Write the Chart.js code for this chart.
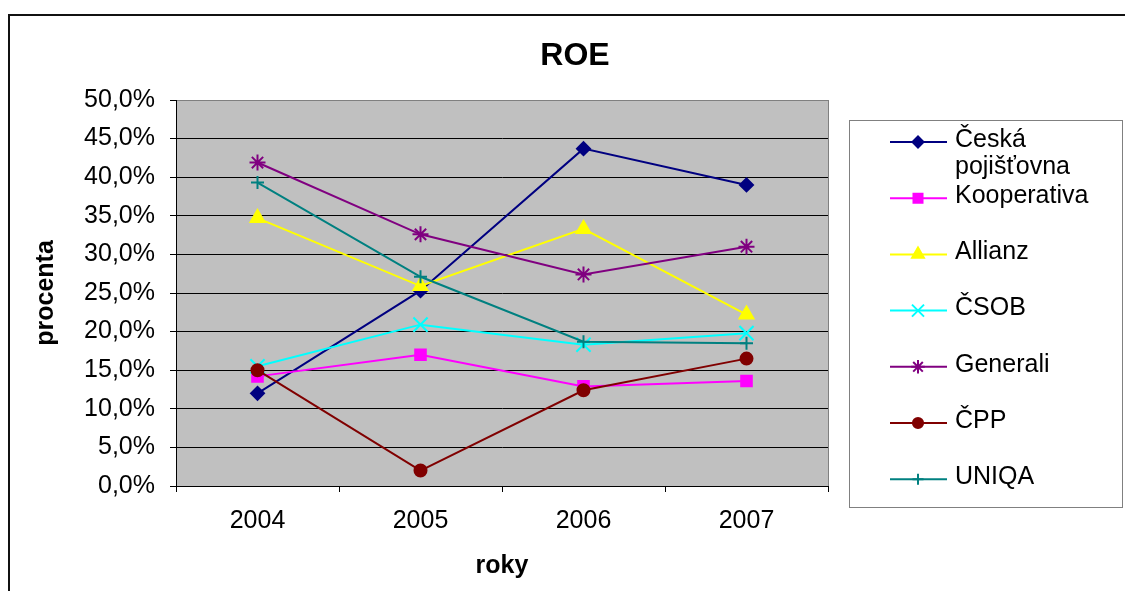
<!DOCTYPE html>
<html>
<head>
<meta charset="utf-8">
<script src="https://cdn.jsdelivr.net/npm/chart.js@4/dist/chart.umd.min.js"></script>
<style>
  html, body { margin: 0; padding: 0; background: #fff; }
  #wrap { position: relative; width: 1125px; height: 591px; }
</style>
</head>
<body>
<div id="wrap"><canvas id="roe"></canvas></div>
<script>
// data (percent)
const years = ['2004', '2005', '2006', '2007'];
const names = ['Česká pojišťovna', 'Kooperativa', 'Allianz', 'ČSOB', 'Generali', 'ČPP', 'UNIQA'];
const ceska = [12.0, 25.3, 43.7, 39.0];
const kooperativa = [14.2, 17.0, 12.9, 13.6];
const allianz = [34.7, 25.9, 33.3, 22.2];
const csob = [15.5, 20.9, 18.3, 19.8];
const generali = [41.9, 32.6, 27.4, 31.0];
const cpp = [15.0, 2.0, 12.4, 16.5];
const uniqa = [39.3, 27.1, 18.7, 18.5];
const yTicks = [0, 5, 10, 15, 20, 25, 30, 35, 40, 45, 50];

const colors = ['#000080', '#FF00FF', '#FFFF00', '#00FFFF', '#800080', '#800000', '#008080'];
const styles = ['rectRot', 'rect', 'triangle', 'crossRot', 'star', 'circle', 'cross'];
const radii = [6.5, 7.5, 8, 10, 8, 6, 6.5];
const series = [ceska, kooperativa, allianz, csob, generali, cpp, uniqa];

const FONT = '"Liberation Sans", Arial, sans-serif';

const datasets = series.map((d, i) => ({
  label: names[i],
  data: d,
  borderColor: colors[i],
  backgroundColor: colors[i],
  borderWidth: 2,
  pointStyle: styles[i],
  pointRadius: radii[i],
  pointBorderWidth: 2,
  pointBorderColor: colors[i],
  pointBackgroundColor: colors[i],
  tension: 0,
  order: series.length - i
}));

// gray plot area, outer frame and title
const framePlugin = {
  id: 'frame',
  beforeDraw(chart) {
    const ctx = chart.ctx, a = chart.chartArea;
    ctx.save();
    ctx.fillStyle = '#fff';
    ctx.fillRect(0, 0, chart.width, chart.height);
    ctx.strokeStyle = '#111';
    ctx.lineWidth = 2;
    ctx.beginPath();
    ctx.moveTo(9, chart.height);
    ctx.lineTo(9, 15);
    ctx.lineTo(chart.width, 15);
    ctx.stroke();
    ctx.fillStyle = '#C0C0C0';
    ctx.fillRect(a.left, a.top, a.right - a.left, a.bottom - a.top);
    ctx.strokeStyle = '#808080';
    ctx.lineWidth = 1;
    ctx.strokeRect(a.left + 0.5, a.top + 0.5, a.right - a.left, a.bottom - a.top);
    ctx.fillStyle = '#000';
    ctx.font = 'bold 32px ' + FONT;
    ctx.textAlign = 'center';
    ctx.textBaseline = 'middle';
    ctx.fillText('ROE', 575, 56);
    ctx.restore();
  }
};

// Excel-like legend box on the right
const legendPlugin = {
  id: 'boxLegend',
  afterDraw(chart) {
    const ctx = chart.ctx;
    const bx = 849, by = 120, bw = 273, bh = 387;
    ctx.save();
    ctx.fillStyle = '#fff';
    ctx.fillRect(bx, by, bw, bh);
    ctx.strokeStyle = '#808080';
    ctx.lineWidth = 1;
    ctx.strokeRect(bx + 0.5, by + 0.5, bw, bh);
    ctx.font = '25px ' + FONT;
    ctx.textBaseline = 'middle';
    ctx.textAlign = 'left';
    const textX = 955, maxW = bx + bw - textX - 4;
    chart.data.datasets.forEach((ds, i) => {
      const y = 142 + 56.2 * i;
      ctx.strokeStyle = ds.borderColor;
      ctx.lineWidth = 2;
      ctx.beginPath();
      ctx.moveTo(890, y);
      ctx.lineTo(947, y);
      ctx.stroke();
      ctx.fillStyle = ds.pointBackgroundColor;
      ctx.strokeStyle = ds.pointBorderColor;
      Chart.helpers.drawPoint(ctx, {
        pointStyle: ds.pointStyle,
        radius: ds.pointRadius * 0.85,
        rotation: 0,
        borderWidth: 2
      }, 918, y);
      // wrap long labels by words
      const words = ds.label.split(' ');
      const lines = [];
      let cur = '';
      words.forEach(w => {
        const t = cur ? cur + ' ' + w : w;
        if (cur && ctx.measureText(t).width > maxW) { lines.push(cur); cur = w; }
        else cur = t;
      });
      lines.push(cur);
      ctx.fillStyle = '#000';
      lines.forEach((ln, k) => ctx.fillText(ln, textX, y - 2 + k * 27));
    });
    ctx.restore();
  }
};

new Chart(document.getElementById('roe'), {
  type: 'line',
  data: { labels: years, datasets: datasets },
  options: {
    responsive: true,
    maintainAspectRatio: false,
    animation: false,
    layout: { padding: { top: 100, right: 297, left: 0, bottom: 0 } },
    plugins: {
      legend: { display: false },
      title: { display: false },
      tooltip: { enabled: false }
    },
    scales: {
      x: {
        offset: true,
        afterFit(scale) { scale.height = 105; },
        grid: { display: true, drawOnChartArea: false, drawTicks: true, tickLength: 6, color: '#000', offset: true },
        border: { display: true, color: '#000', width: 1 },
        ticks: { color: '#000', padding: 14, maxRotation: 0, font: { family: FONT, size: 25 } },
        title: {
          display: true, text: 'roky', color: '#000',
          font: { family: FONT, size: 25, weight: 'bold' },
          padding: { top: 0, bottom: 10 }
        }
      },
      y: {
        min: 0,
        max: 50,
        afterFit(scale) { scale.width = 176; },
        afterBuildTicks(scale) { scale.ticks = yTicks.map(v => ({ value: v })); },
        grid: {
          color: ctx => (ctx.tick && ctx.tick.value === 50 ? '#808080' : '#000'),
          tickColor: '#000',
          lineWidth: 1,
          tickLength: 6
        },
        border: { display: true, color: '#000', width: 1 },
        ticks: {
          color: '#000',
          padding: 15,
          font: { family: FONT, size: 25 },
          callback: v => v.toFixed(1).replace('.', ',') + '%'
        },
        title: {
          display: true, text: 'procenta', color: '#000',
          font: { family: FONT, size: 25, weight: 'bold' },
          padding: { top: 31, bottom: 0 }
        }
      }
    }
  },
  plugins: [framePlugin, legendPlugin]
});
</script>
</body>
</html>
